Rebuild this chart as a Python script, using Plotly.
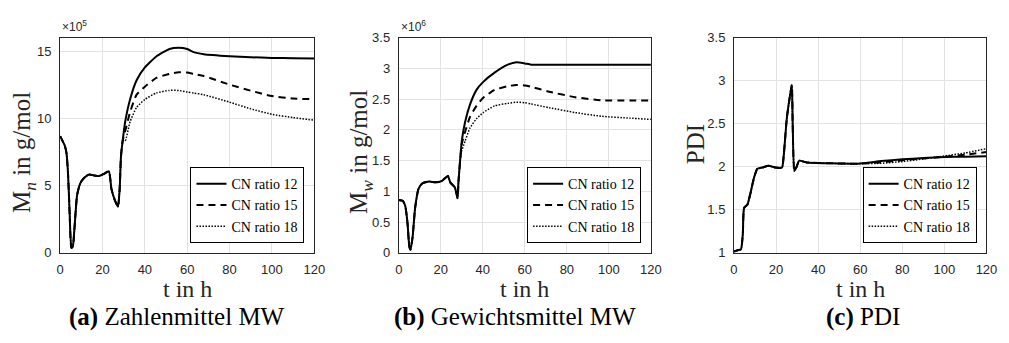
import plotly.graph_objects as go

W, H = 1009, 343

# ---------------- data ----------------
# (a) number-average molecular weight, in 1e5 g/mol
t_mn_common = [0, 2.2, 3, 3.7, 4.5, 5.3, 6, 6.8, 8, 9.6, 11.4, 13.7, 16, 18.4, 20.7, 23, 24.2, 25.8, 27.3, 28.1, 28.7, 29.5]
mn_common = [8.67, 7.96, 7.4, 5.94, 2.85, 0.36, 0.48, 1.9, 4.28, 5.2, 5.58, 5.82, 5.75, 5.7, 5.87, 6.06, 4.75, 3.92, 3.44, 4.75, 7.13, 8.3]
t_mn_late = [30.7, 33, 36.1, 40, 45.4, 51.6, 56, 60, 63, 67.8, 80, 90, 100, 110, 120]
mn_cn12 = [9.74, 11.4, 12.83, 13.78, 14.6, 15.15, 15.25, 15.15, 14.92, 14.77, 14.62, 14.54, 14.49, 14.46, 14.44]
mn_cn15 = [9.03, 10.45, 11.76, 12.35, 13.0, 13.3, 13.42, 13.4, 13.3, 13.15, 12.5, 12.05, 11.65, 11.47, 11.42]
mn_cn18 = [8.31, 9.74, 10.81, 11.4, 11.88, 12.07, 12.07, 11.95, 11.88, 11.75, 11.2, 10.7, 10.3, 10.05, 9.86]

# (b) weight-average molecular weight, in 1e6 g/mol
t_mw_common = [0, 1.9, 3.1, 4.2, 5, 5.6, 6.6, 7.8, 9.4, 11.3, 14.4, 17.5, 20.6, 23.4, 24.5, 26.6, 27.3, 28, 28.4, 29.2]
mw_common = [0.86, 0.845, 0.76, 0.47, 0.11, 0.05, 0.26, 0.73, 1.04, 1.13, 1.16, 1.145, 1.17, 1.25, 1.145, 1.07, 0.99, 0.886, 1.145, 1.5]
t_mw_late = [30, 31.6, 33.9, 37, 40.2, 45.6, 51.9, 56, 60, 63, 71.6, 84, 96.6, 110, 120]
mw_cn12 = [1.82, 2.13, 2.41, 2.65, 2.78, 2.93, 3.06, 3.10, 3.08, 3.06, 3.06, 3.06, 3.06, 3.06, 3.06]
mw_cn15 = [1.77, 1.97, 2.21, 2.39, 2.52, 2.65, 2.71, 2.73, 2.72, 2.70, 2.62, 2.53, 2.48, 2.475, 2.475]
mw_cn18 = [1.66, 1.82, 2.03, 2.18, 2.28, 2.39, 2.43, 2.45, 2.44, 2.42, 2.36, 2.28, 2.22, 2.19, 2.17]

# (c) PDI
t_pdi_common = [0, 1.7, 3.3, 4.2, 4.8, 6.4, 8, 9.5, 11.1, 13.4, 16.5, 19.7, 22.8, 23.6, 25.1, 26.4, 27.5, 27.9, 28.7, 29.8, 31, 34.5, 45.4, 58.7]
pdi_common = [1.015, 1.03, 1.04, 1.22, 1.52, 1.56, 1.71, 1.87, 1.975, 1.99, 2.01, 1.99, 1.99, 2.12, 2.56, 2.79, 2.95, 2.49, 1.95, 2.0, 2.07, 2.05, 2.04, 2.035]
t_pdi_late = [70, 80, 90, 100, 110, 120]
pdi_cn12 = [2.065, 2.086, 2.10, 2.112, 2.117, 2.12]
pdi_cn15 = [2.05, 2.075, 2.095, 2.115, 2.14, 2.17]
pdi_cn18 = [2.04, 2.06, 2.09, 2.125, 2.16, 2.21]

series_names = ["CN ratio 12", "CN ratio 15", "CN ratio 18"]
x_ticks = [0, 20, 40, 60, 80, 100, 120]
captions = ["<b>(a)</b> Zahlenmittel MW", "<b>(b)</b> Gewichtsmittel MW", "<b>(c)</b> PDI"]
y_titles = ["M<sub><i>n</i></sub> in g/mol", "M<sub><i>w</i></sub> in g/mol", "PDI"]
exponents = ["×10<sup>5</sup>", "×10<sup>6</sup>", None]

# ---------------- styling ----------------
styles = [dict(color="black", width=2, dash="solid"),
          dict(color="black", width=2, dash="7px,5px"),
          dict(color="black", width=1.5, dash="1.5px,1.5px")]
SERIF = "'Liberation Serif', 'Times New Roman', serif"
SANS = "'Liberation Sans', Arial, Helvetica, sans-serif"
AX = "#262626"

def px(x):
    return x / W

def py(y):
    return (H - y) / H

# axes pixel boxes: (left, right)
x_boxes = [(57, 315), (400.7, 656.7), (741, 997.3)]
y_top, y_bot = 32, 257

fig = go.Figure()

panels = [
    (t_mn_common, mn_common, t_mn_late, [mn_cn12, mn_cn15, mn_cn18]),
    (t_mw_common, mw_common, t_mw_late, [mw_cn12, mw_cn15, mw_cn18]),
    (t_pdi_common, pdi_common, t_pdi_late, [pdi_cn12, pdi_cn15, pdi_cn18]),
]
legend_keys = ["legend", "legend2", "legend3"]

for i, (tc, vc, tl, late) in enumerate(panels):
    xa = "x" if i == 0 else f"x{i+1}"
    ya = "y" if i == 0 else f"y{i+1}"
    for k in range(3):
        fig.add_trace(go.Scatter(
            x=tc + tl, y=vc + late[k], mode="lines", name=series_names[k],
            line=dict(shape="spline", smoothing=0.5, **styles[k]),
            xaxis=xa, yaxis=ya, legend=legend_keys[i], showlegend=True))

y_ranges = [[0, 16], [0, 3.5], [1, 3.5]]
y_tickvals = [[0, 5, 10, 15], [0, 0.5, 1, 1.5, 2, 2.5, 3, 3.5], [1, 1.5, 2, 2.5, 3, 3.5]]
y_ticktext = [["0", "5", "10", "15"], ["0", "0.5", "1", "1.5", "2", "2.5", "3", "3.5"],
              ["1", "1.5", "2", "2.5", "3", "3.5"]]

common_axis = dict(showline=True, linecolor=AX, linewidth=1, mirror=True,
                   ticks="outside", tickcolor="rgba(0,0,0,0)", showgrid=True,
                   gridcolor="#e3e3e3", gridwidth=1, zeroline=False,
                   tickfont=dict(family=SANS, size=13, color=AX))

layout = dict(width=W, height=H, margin=dict(l=0, r=0, t=0, b=0),
              paper_bgcolor="white", plot_bgcolor="white", showlegend=True)

for i in range(3):
    sx = "" if i == 0 else str(i + 1)
    l, r = x_boxes[i]
    layout[f"xaxis{sx}"] = dict(domain=[px(l), px(r)], range=[0, 120], tickvals=x_ticks,
                                anchor=f"y{sx}", ticklen=5, **common_axis)
    layout[f"yaxis{sx}"] = dict(domain=[py(y_bot), py(y_top)], range=y_ranges[i],
                                tickvals=y_tickvals[i], ticktext=y_ticktext[i],
                                anchor=f"x{sx}", ticklen=5, **common_axis)
    layout[legend_keys[i]] = dict(x=px(r - 10), y=py(y_bot - 10), xanchor="right", yanchor="bottom",
                                  xref="paper", yref="paper",
                                  bgcolor="white", bordercolor="black", borderwidth=1,
                                  font=dict(family=SERIF, size=14, color="black"),
                                  tracegroupgap=0, itemwidth=30)

fig.update_layout(**layout)

annotations = []
y_title_x = [20, 362, 702]
y_title_y = [152, 152, 144]
cap_x = [176, 519, 872]
for i in range(3):
    l, r = x_boxes[i]
    annotations.append(dict(text=y_titles[i], x=px(y_title_x[i]), y=py(y_title_y[i]),
                            xref="paper", yref="paper", textangle=-90, showarrow=False,
                            xanchor="center", yanchor="middle",
                            font=dict(family=SERIF, size=25, color=AX)))
    annotations.append(dict(text="t in h", x=px((l + r) / 2), y=py(295),
                            xref="paper", yref="paper", showarrow=False,
                            xanchor="center", yanchor="middle",
                            font=dict(family=SERIF, size=24, color=AX)))
    annotations.append(dict(text=captions[i], x=px(cap_x[i]), y=py(324),
                            xref="paper", yref="paper", showarrow=False,
                            xanchor="center", yanchor="middle",
                            font=dict(family=SERIF, size=25, color="black")))
    if exponents[i]:
        annotations.append(dict(text=exponents[i], x=px(l), y=py(y_top - 2),
                                xref="paper", yref="paper", showarrow=False,
                                xanchor="left", yanchor="bottom",
                                font=dict(family=SANS, size=12, color=AX)))
fig.update_layout(annotations=annotations)

fig.write_html("out.html")
